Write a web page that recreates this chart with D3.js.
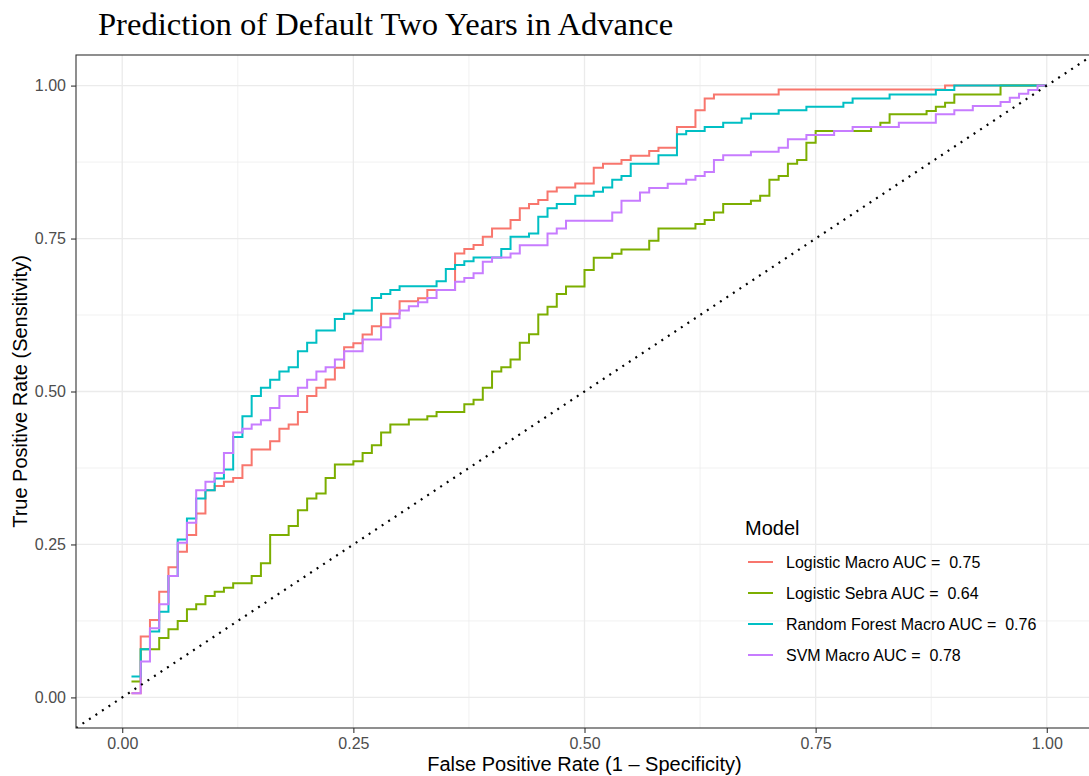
<!DOCTYPE html>
<html>
<head>
<meta charset="utf-8">
<script src="https://cdn.jsdelivr.net/npm/d3@7"></script>
<style>
  body { margin: 0; background: #fff; }
  text { font-family: "Liberation Sans", Arial, Helvetica, sans-serif; }
</style>
</head>
<body>
<svg id="chart" width="1089" height="776"></svg>
<script>
'use strict';

// ROC corner points [fpr, tpr]
var logitMacro = [[0.01,0.007],[0.02,0.0995],[0.03,0.1267],[0.04,0.1729],[0.05,0.2127],[0.06,0.2381],[0.07,0.2653],[0.08,0.3007],
    [0.09,0.3387],[0.10,0.3457],[0.11,0.3523],[0.12,0.3588],[0.13,0.3795],[0.14,0.4051],[0.16,0.4186],[0.17,0.4393],[0.18,0.4459],
    [0.19,0.4664],[0.20,0.4925],[0.21,0.5062],[0.22,0.5197],[0.23,0.5388],[0.24,0.5724],[0.25,0.5789],[0.26,0.5931],[0.27,0.6066],
    [0.28,0.6269],[0.30,0.6474],[0.32,0.6523],[0.33,0.666],[0.36,0.7257],[0.37,0.733],[0.38,0.7394],[0.39,0.7529],[0.40,0.7665],
    [0.42,0.7802],[0.43,0.7997],[0.44,0.8063],[0.45,0.8128],[0.46,0.8268],[0.47,0.8333],[0.49,0.8398],[0.51,0.8659],[0.52,0.8724],
    [0.54,0.8785],[0.55,0.8855],[0.57,0.8932],[0.58,0.8986],[0.60,0.9323],[0.62,0.9595],[0.63,0.979],[0.64,0.9856],[0.71,0.9938],
    [0.89,1.0],[1.0,1.0]];

var logitSebra = [[0.01,0.026],[0.02,0.0789],[0.04,0.097],[0.05,0.1115],[0.06,0.125],[0.07,0.144],[0.08,0.1523],[0.09,0.1659],
    [0.10,0.1729],[0.11,0.1794],[0.12,0.1866],[0.14,0.1985],[0.15,0.2192],[0.16,0.2653],[0.18,0.28],[0.19,0.3061],[0.20,0.3252],
    [0.21,0.3333],[0.22,0.3588],[0.23,0.3806],[0.25,0.386],[0.26,0.3995],[0.27,0.4121],[0.28,0.4328],[0.29,0.4459],[0.31,0.4541],
    [0.33,0.4594],[0.34,0.4665],[0.37,0.479],[0.38,0.4866],[0.39,0.5062],[0.40,0.5328],[0.41,0.5398],[0.42,0.5523],[0.43,0.5796],
    [0.44,0.5937],[0.45,0.6257],[0.46,0.6387],[0.47,0.6593],[0.48,0.6718],[0.50,0.6986],[0.51,0.7187],[0.53,0.7252],[0.54,0.7323],
    [0.57,0.7464],[0.58,0.7665],[0.62,0.7737],[0.63,0.7802],[0.64,0.7926],[0.65,0.8063],[0.68,0.8116],[0.69,0.8198],[0.70,0.8459],
    [0.71,0.8524],[0.72,0.8724],[0.73,0.8785],[0.74,0.9067],[0.75,0.9258],[0.81,0.9323],[0.82,0.9393],[0.83,0.953],[0.87,0.9584],
    [0.88,0.9654],[0.89,0.972],[0.90,0.9856],[0.95,1.0],[1.0,1.0]];

var rfMacro = [[0.01,0.034],[0.02,0.0789],[0.03,0.1076],[0.04,0.1402],[0.05,0.1985],[0.06,0.2583],[0.07,0.2925],[0.08,0.3252],
    [0.09,0.3387],[0.10,0.3578],[0.11,0.3725],[0.12,0.4256],[0.13,0.4594],[0.14,0.4925],[0.15,0.5062],[0.16,0.5192],[0.17,0.5328],
    [0.18,0.5398],[0.19,0.5659],[0.20,0.5796],[0.21,0.5996],[0.23,0.6187],[0.24,0.6269],[0.25,0.6323],[0.27,0.653],[0.28,0.6595],
    [0.29,0.666],[0.30,0.672],[0.34,0.68],[0.35,0.7003],[0.36,0.7068],[0.37,0.7127],[0.38,0.7192],[0.41,0.733],[0.42,0.7529],
    [0.44,0.7583],[0.45,0.7855],[0.46,0.7997],[0.47,0.8063],[0.49,0.8198],[0.51,0.8263],[0.52,0.8333],[0.53,0.8459],[0.54,0.8524],
    [0.55,0.8724],[0.58,0.8862],[0.60,0.9204],[0.61,0.9258],[0.63,0.9323],[0.65,0.9393],[0.67,0.9464],[0.68,0.9541],[0.71,0.9595],
    [0.74,0.9654],[0.78,0.972],[0.79,0.979],[0.83,0.9856],[0.88,0.9927],[0.90,1.0],[1.0,1.0]];

var svmMacro = [[0.01,0.007],[0.02,0.0587],[0.03,0.1132],[0.04,0.1523],[0.05,0.1985],[0.06,0.2528],[0.07,0.2854],[0.08,0.3387],
    [0.09,0.3523],[0.10,0.3669],[0.11,0.3995],[0.12,0.4328],[0.13,0.4393],[0.14,0.4459],[0.15,0.4529],[0.16,0.4729],[0.17,0.4925],
    [0.19,0.5062],[0.20,0.5192],[0.21,0.5328],[0.22,0.5398],[0.23,0.5523],[0.24,0.5659],[0.26,0.585],[0.28,0.605],[0.29,0.6197],
    [0.30,0.6323],[0.31,0.6393],[0.32,0.6458],[0.33,0.653],[0.34,0.666],[0.36,0.6795],[0.37,0.6856],[0.38,0.6931],[0.39,0.7122],
    [0.40,0.7192],[0.42,0.7257],[0.43,0.739],[0.46,0.7583],[0.47,0.7665],[0.48,0.779],[0.53,0.7926],[0.54,0.8116],[0.56,0.8252],
    [0.57,0.8328],[0.59,0.8394],[0.61,0.8459],[0.62,0.8524],[0.63,0.8589],[0.64,0.8785],[0.65,0.8862],[0.68,0.892],[0.71,0.8986],
    [0.72,0.9123],[0.74,0.9193],[0.77,0.9258],[0.79,0.9323],[0.84,0.9393],[0.88,0.953],[0.90,0.9595],[0.92,0.9666],[0.95,0.9731],
    [0.96,0.9801],[0.97,0.9866],[0.98,0.9927],[0.99,1.0],[1.0,1.0]];

var modelNames = ["Logistic Macro", "Logistic Sebra", "Random Forest Macro", "SVM Macro"];
var modelAuc = ["0.75", "0.64", "0.76", "0.78"];
var modelColors = ["#F8766D", "#7CAE00", "#00BFC4", "#C77CFF"];
var majorTicks = [0, 0.25, 0.5, 0.75, 1];
var minorTicks = [0.125, 0.375, 0.625, 0.875];

var curves = [logitMacro, logitSebra, rfMacro, svmMacro];

var svg = d3.select("#chart");
svg.append("rect").attr("width", 1089).attr("height", 776).attr("fill", "#fff");

var panelL = 76, panelR = 1093, panelT = 55, panelB = 728;

var x = d3.scaleLinear().domain([-0.05, 1.05]).range([panelL, panelR]);
var y = d3.scaleLinear().domain([-0.05, 1.05]).range([panelB, panelT]);

svg.append("defs").append("clipPath").attr("id", "panel")
    .append("rect")
    .attr("x", panelL).attr("y", panelT)
    .attr("width", panelR - panelL).attr("height", panelB - panelT);

// grid
var grid = svg.append("g");
grid.selectAll(".vminor").data(minorTicks).enter().append("line")
    .attr("x1", d => x(d)).attr("x2", d => x(d)).attr("y1", panelT).attr("y2", panelB)
    .attr("stroke", "#ebebeb").attr("stroke-width", 0.7);
grid.selectAll(".hminor").data(minorTicks).enter().append("line")
    .attr("y1", d => y(d)).attr("y2", d => y(d)).attr("x1", panelL).attr("x2", panelR)
    .attr("stroke", "#ebebeb").attr("stroke-width", 0.7);
grid.selectAll(".vmajor").data(majorTicks).enter().append("line")
    .attr("x1", d => x(d)).attr("x2", d => x(d)).attr("y1", panelT).attr("y2", panelB)
    .attr("stroke", "#ebebeb").attr("stroke-width", 1.3);
grid.selectAll(".hmajor").data(majorTicks).enter().append("line")
    .attr("y1", d => y(d)).attr("y2", d => y(d)).attr("x1", panelL).attr("x2", panelR)
    .attr("stroke", "#ebebeb").attr("stroke-width", 1.3);

// ROC curves
var line = d3.line()
    .x(d => x(d[0]))
    .y(d => y(d[1]))
    .curve(d3.curveStepAfter);

var plot = svg.append("g").attr("clip-path", "url(#panel)");

plot.selectAll(".roc")
    .data(curves)
    .enter().append("path")
    .attr("class", "roc")
    .attr("d", line)
    .attr("fill", "none")
    .attr("stroke", (d, i) => modelColors[i])
    .attr("stroke-width", 2)
    .attr("stroke-linejoin", "miter");

// chance diagonal
plot.append("line")
    .attr("x1", x(-0.05)).attr("y1", y(-0.05))
    .attr("x2", x(1.05)).attr("y2", y(1.05))
    .attr("stroke", "#000")
    .attr("stroke-width", 2.2)
    .attr("stroke-dasharray", "2 5.8");

// panel border
svg.append("rect")
    .attr("x", panelL).attr("y", panelT)
    .attr("width", panelR - panelL).attr("height", panelB - panelT)
    .attr("fill", "none").attr("stroke", "#333").attr("stroke-width", 1.1);

// axes
var xAxis = svg.append("g")
    .attr("transform", "translate(0," + panelB + ")")
    .call(d3.axisBottom(x).tickValues(majorTicks).tickFormat(d3.format(".2f")).tickSize(5).tickPadding(5));
var yAxis = svg.append("g")
    .attr("transform", "translate(" + panelL + ",0)")
    .call(d3.axisLeft(y).tickValues(majorTicks).tickFormat(d3.format(".2f")).tickSize(5).tickPadding(5));

[xAxis, yAxis].forEach(a => {
    a.select(".domain").remove();
    a.selectAll(".tick line").attr("stroke", "#333").attr("stroke-width", 1.1);
    a.selectAll(".tick text")
        .attr("fill", "#4d4d4d")
        .style("font-size", "16px")
        .style("font-family", "'Liberation Sans', Arial, sans-serif");
});

// titles
svg.append("text")
    .attr("x", 98).attr("y", 35)
    .style("font-family", "'Liberation Serif', 'Times New Roman', serif")
    .style("font-size", "32.6px")
    .attr("fill", "#000")
    .text("Prediction of Default Two Years in Advance");

svg.append("text")
    .attr("x", (panelL + panelR) / 2).attr("y", 771)
    .attr("text-anchor", "middle")
    .style("font-size", "20px")
    .text("False Positive Rate (1 \u2013 Specificity)");

svg.append("text")
    .attr("transform", "translate(27," + ((panelT + panelB) / 2) + ") rotate(-90)")
    .attr("text-anchor", "middle")
    .style("font-size", "20px")
    .text("True Positive Rate (Sensitivity)");

// legend
var legend = svg.append("g");
legend.append("text")
    .attr("x", 745).attr("y", 535)
    .style("font-size", "20px")
    .text("Model");

var items = legend.selectAll(".item")
    .data(modelNames)
    .enter().append("g")
    .attr("class", "item")
    .attr("transform", (d, i) => "translate(0," + (562 + i * 31) + ")");

items.append("line")
    .attr("x1", 748).attr("x2", 773)
    .attr("stroke", (d, i) => modelColors[i])
    .attr("stroke-width", 2);

items.append("text")
    .attr("x", 786).attr("y", 6)
    .style("font-size", "16px")
    .style("white-space", "pre")
    .text((d, i) => d + " AUC =  " + modelAuc[i]);
</script>
</body>
</html>
